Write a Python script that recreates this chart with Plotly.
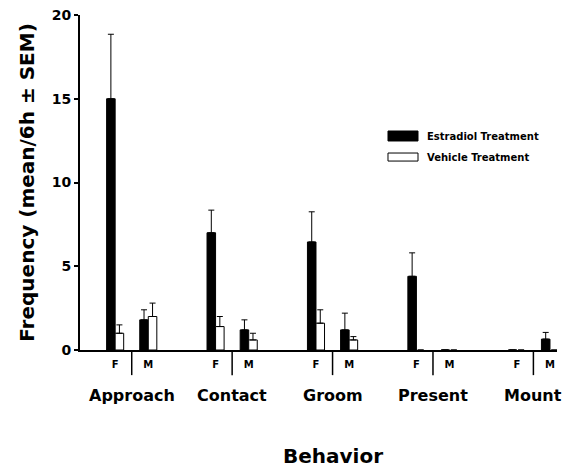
import plotly.graph_objects as go

behaviors = ["Approach", "Contact", "Groom", "Present", "Mount"]
sexes = ["F", "M"]
estradiol_mean = [15.0, 1.8, 7.0, 1.2, 6.45, 1.2, 4.4, 0.0, 0.0, 0.65]
estradiol_sem = [3.85, 0.6, 1.35, 0.6, 1.8, 1.0, 1.4, 0.0, 0.0, 0.4]
vehicle_mean = [1.0, 2.0, 1.4, 0.6, 1.6, 0.6, 0.0, 0.0, 0.0, 0.0]
vehicle_sem = [0.5, 0.8, 0.6, 0.4, 0.8, 0.2, 0.0, 0.0, 0.0, 0.0]
y_ticks = [0, 5, 10, 15, 20]

FONT = "DejaVu Sans, Arial, sans-serif"
sex_offset = {"F": 0.35, "M": 0.68}
xpos, xlab = [], []
for i, b in enumerate(behaviors):
    for s in sexes:
        xpos.append(i + sex_offset[s])
        xlab.append(s)

bw = 0.085
fig = go.Figure()
fig.add_trace(go.Bar(
    x=xpos, y=estradiol_mean, width=bw, offset=-bw,
    marker=dict(color="black", line=dict(color="black", width=1)),
    error_y=dict(type="data", array=estradiol_sem, arrayminus=[0] * len(estradiol_sem),
                 symmetric=False, color="black", thickness=1, width=3),
    name="Estradiol Treatment", showlegend=False,
))
fig.add_trace(go.Bar(
    x=xpos, y=vehicle_mean, width=bw, offset=0,
    marker=dict(color="white",
                line=dict(color="black", width=[1 if v > 0 else 0 for v in vehicle_mean])),
    error_y=dict(type="data", array=vehicle_sem, arrayminus=[0] * len(vehicle_sem),
                 symmetric=False, color="black", thickness=1, width=3),
    name="Vehicle Treatment", showlegend=False,
))

shapes = []
annotations = []
for i, b in enumerate(behaviors):
    xd = i + (sex_offset["F"] + sex_offset["M"]) / 2
    shapes.append(dict(type="line", xref="x", yref="paper", x0=xd, x1=xd,
                       y0=0, y1=-0.075, line=dict(color="black", width=1.5)))
    annotations.append(dict(text=b, xref="x", yref="paper", x=xd, y=-0.135,
                            showarrow=False, yanchor="middle",
                            font=dict(family=FONT, size=16, color="black", weight="bold")))

annotations.append(dict(text="Behavior", xref="paper", yref="paper", x=0.53, y=-0.315,
                        showarrow=False, yanchor="middle",
                        font=dict(family=FONT, size=20, color="black", weight="bold")))

# legend
shapes.append(dict(type="rect", xref="paper", yref="paper", x0=0.6457, x1=0.7086,
                   y0=0.6239, y1=0.6537, fillcolor="black", line=dict(color="black", width=1)))
shapes.append(dict(type="rect", xref="paper", yref="paper", x0=0.6457, x1=0.7086,
                   y0=0.564, y1=0.588, fillcolor="white", line=dict(color="black", width=1)))
annotations.append(dict(text="Estradiol Treatment", xref="paper", yref="paper", x=0.7233,
                        y=0.6388, xanchor="left", yanchor="middle", showarrow=False,
                        font=dict(family=FONT, size=10, color="black", weight="bold")))
annotations.append(dict(text="Vehicle Treatment", xref="paper", yref="paper", x=0.7233,
                        y=0.576, xanchor="left", yanchor="middle", showarrow=False,
                        font=dict(family=FONT, size=10, color="black", weight="bold")))

fig.update_layout(
    width=562, height=470,
    margin=dict(l=80, r=5, t=15, b=120),
    plot_bgcolor="white", paper_bgcolor="white",
    barmode="overlay",
    shapes=shapes, annotations=annotations,
    font=dict(family=FONT, color="black"),
    xaxis=dict(range=[0, 4.75], showline=True, linecolor="black", linewidth=2,
               tickmode="array", tickvals=xpos, ticktext=xlab, ticks="",
               ticklabelstandoff=4,
               tickfont=dict(family=FONT, size=10, color="black", weight="bold"),
               showgrid=False, zeroline=False),
    yaxis=dict(range=[0, 20], showline=True, linecolor="black", linewidth=2,
               tickmode="array", tickvals=y_ticks, ticks="outside", ticklen=4,
               tickwidth=2, tickcolor="black",
               tickfont=dict(family=FONT, size=14, color="black", weight="bold"),
               title=dict(text="Frequency (mean/6h ± SEM)", standoff=12,
                          font=dict(family=FONT, size=20, color="black", weight="bold")),
               showgrid=False, zeroline=False),
)

fig.write_html("out.html")
